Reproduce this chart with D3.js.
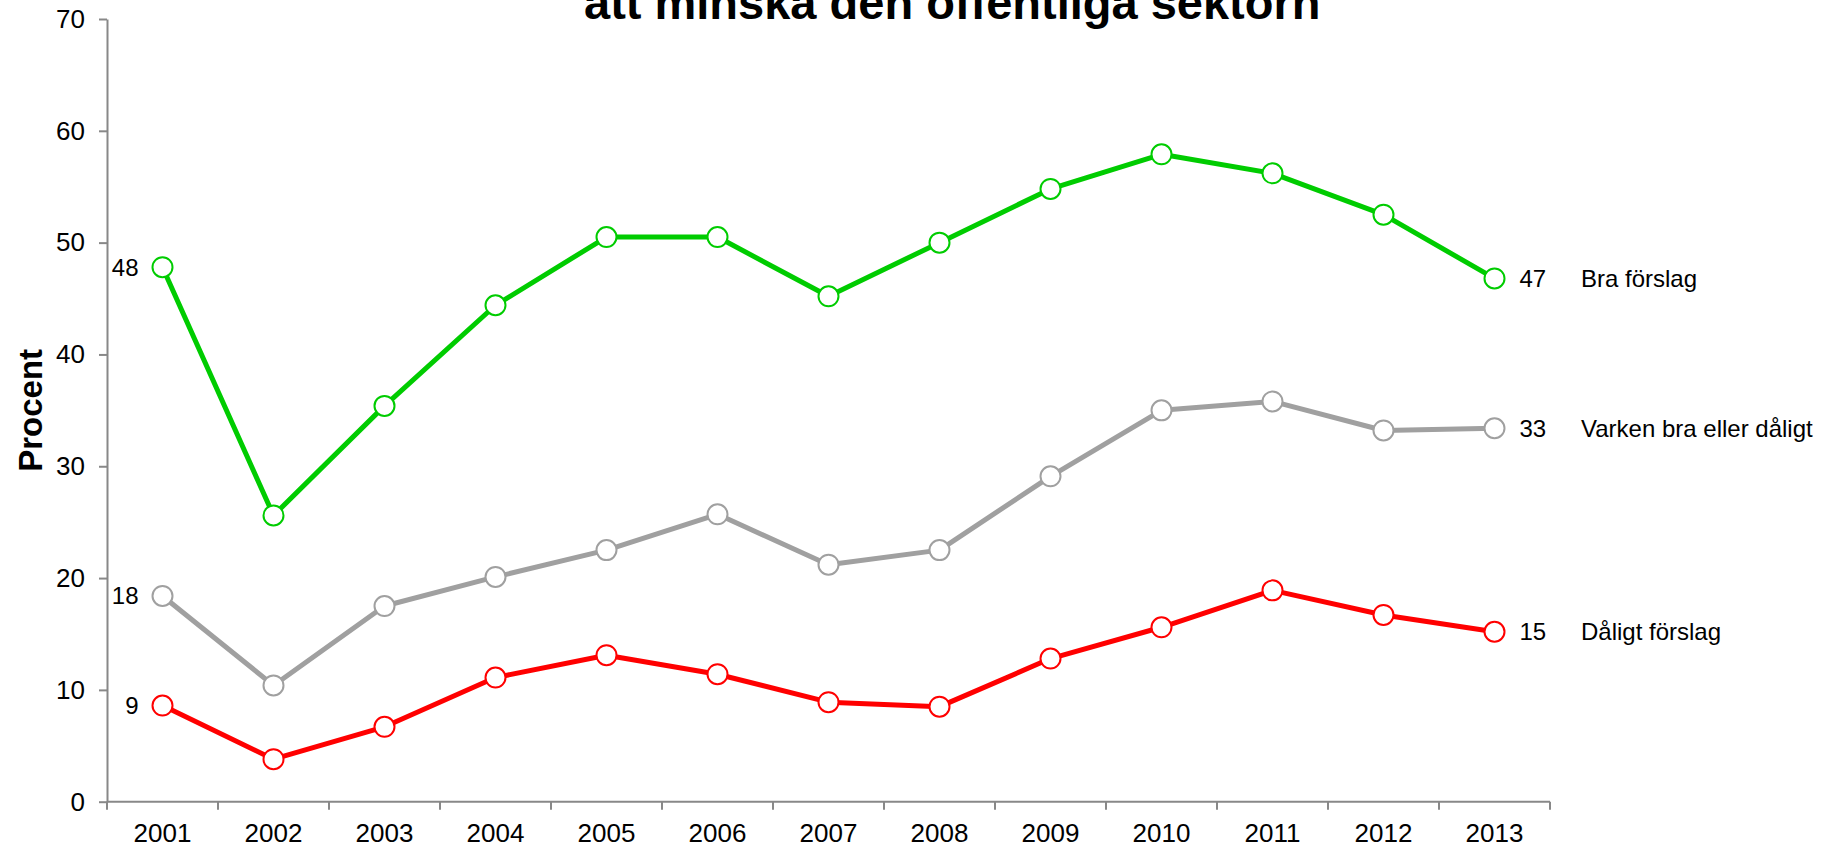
<!DOCTYPE html>
<html>
<head>
<meta charset="utf-8">
<script src="https://cdn.jsdelivr.net/npm/d3@7"></script>
<style>
  body { margin: 0; background: #fff; }
  svg { display: block; font-family: "Liberation Sans", Arial, sans-serif; }
</style>
</head>
<body>
<svg id="chart" width="1825" height="847"></svg>
<script>
// values
const years = ["2001", "2002", "2003", "2004", "2005", "2006", "2007",
  "2008", "2009", "2010", "2011", "2012", "2013"];
const braForslag = [47.8, 25.6, 35.4, 44.4, 50.5, 50.5, 45.2, 50.0, 54.8, 57.9, 56.2, 52.5, 46.8];
const varken = [18.4, 10.4, 17.5, 20.1, 22.5, 25.7, 21.2, 22.5, 29.1, 35.0, 35.8, 33.2, 33.4];
const daligtForslag = [8.6, 3.8, 6.7, 11.1, 13.1, 11.4, 8.9, 8.5, 12.8, 15.6, 18.9, 16.7, 15.2];
const seriesNames = ["Bra förslag", "Varken bra eller dåligt", "Dåligt förslag"];
const seriesColors = ["#00cc00", "#a0a0a0", "#ff0000"];
const yTicks = [0, 10, 20, 30, 40, 50, 60, 70];
const titleLine = "att minska den offentliga sektorn";

const series = [braForslag, varken, daligtForslag].map((values, i) => ({
  name: seriesNames[i],
  color: seriesColors[i],
  values: values,
}));

const svg = d3.select("#chart");

const x = d3.scaleBand().domain(years).range([107, 1550]).padding(0);
const y = d3.scaleLinear().domain([0, 70]).range([801.7, 19]);
const cx = (d) => x(d) + x.bandwidth() / 2;

// title (first line sits above the visible area, as in the original)
svg.append("text")
  .attr("x", 584)
  .attr("y", 19)
  .attr("font-size", 47)
  .attr("font-weight", "bold")
  .text(titleLine);

// y axis
const yAxis = svg.append("g")
  .attr("transform", "translate(107,0)")
  .call(d3.axisLeft(y).tickValues(yTicks).tickSize(8).tickSizeOuter(0).tickPadding(14));
yAxis.select(".domain").attr("stroke", "#888").attr("stroke-width", 2);
yAxis.selectAll(".tick line").attr("stroke", "#888").attr("stroke-width", 2);
yAxis.selectAll(".tick text")
  .attr("font-size", 26)
  .attr("font-family", "Liberation Sans, Arial, sans-serif")
  .attr("fill", "#000");

svg.append("text")
  .attr("transform", `translate(42,${(y(0) + y(70)) / 2}) rotate(-90)`)
  .attr("text-anchor", "middle")
  .attr("font-size", 33)
  .attr("font-weight", "bold")
  .text("Procent");

// x axis: ticks on category boundaries, labels centred
const xAxis = svg.append("g").attr("transform", `translate(0,${y(0)})`);
xAxis.append("line")
  .attr("x1", x.range()[0])
  .attr("x2", x.range()[1])
  .attr("stroke", "#888")
  .attr("stroke-width", 2);
xAxis.selectAll("line.tick")
  .data(years.concat(["end"]))
  .join("line")
  .attr("class", "tick")
  .attr("x1", (d, i) => x.range()[0] + i * x.step())
  .attr("x2", (d, i) => x.range()[0] + i * x.step())
  .attr("y1", 0)
  .attr("y2", 8)
  .attr("stroke", "#888")
  .attr("stroke-width", 2);
xAxis.selectAll("text")
  .data(years)
  .join("text")
  .attr("x", cx)
  .attr("y", 40)
  .attr("text-anchor", "middle")
  .attr("font-size", 26)
  .text((d) => d);

// lines and markers
const line = d3.line()
  .x((d, i) => cx(years[i]))
  .y((d) => y(d));

const g = svg.append("g");
series.forEach((s) => {
  g.append("path")
    .datum(s.values)
    .attr("fill", "none")
    .attr("stroke", s.color)
    .attr("stroke-width", 5)
    .attr("stroke-linejoin", "round")
    .attr("d", line);

  g.selectAll(null)
    .data(s.values)
    .join("circle")
    .attr("cx", (d, i) => cx(years[i]))
    .attr("cy", (d) => y(d))
    .attr("r", 10)
    .attr("fill", "#fff")
    .attr("stroke", s.color)
    .attr("stroke-width", 2);

  const first = s.values[0];
  const last = s.values[s.values.length - 1];

  g.append("text")
    .attr("x", cx(years[0]) - 24)
    .attr("y", y(first))
    .attr("dy", "0.35em")
    .attr("text-anchor", "end")
    .attr("font-size", 24)
    .text(Math.round(first));

  g.append("text")
    .attr("x", cx(years[years.length - 1]) + 25)
    .attr("y", y(last))
    .attr("dy", "0.35em")
    .attr("font-size", 24)
    .text(Math.round(last));

  g.append("text")
    .attr("x", 1581)
    .attr("y", y(last))
    .attr("dy", "0.35em")
    .attr("font-size", 24)
    .text(s.name);
});
</script>
</body>
</html>
